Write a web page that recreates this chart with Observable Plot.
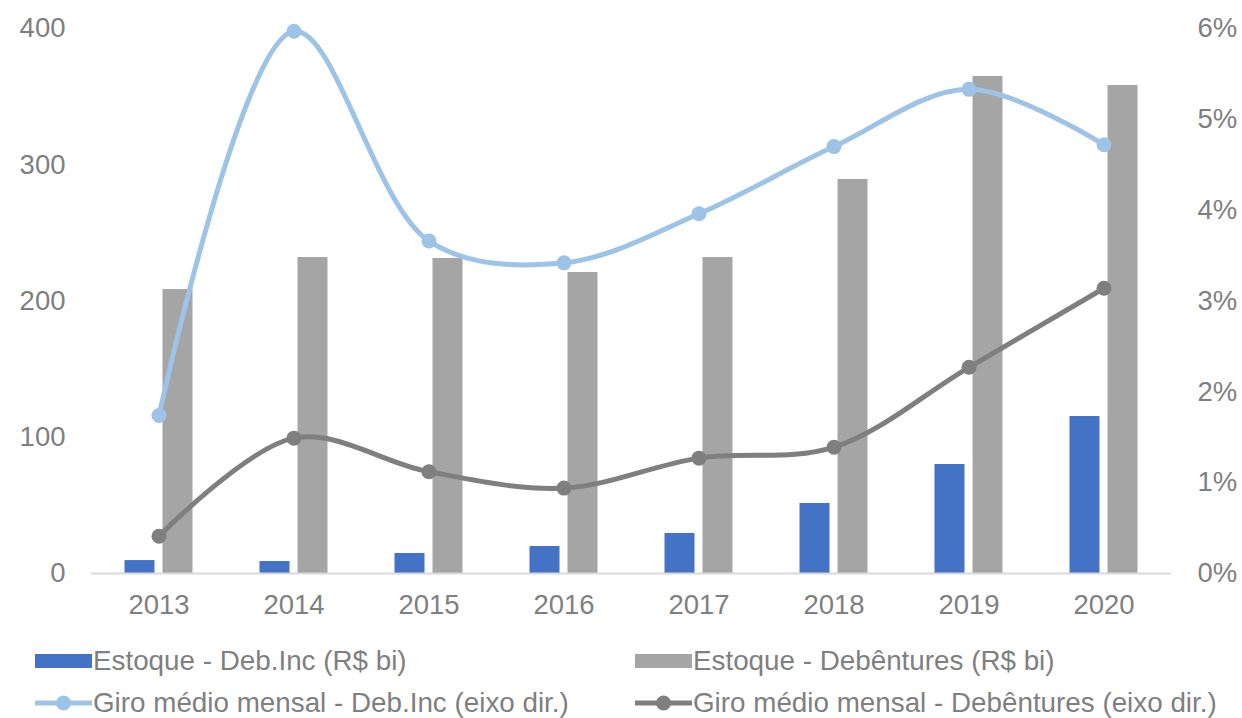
<!DOCTYPE html>
<html>
<head>
<meta charset="utf-8">
<script src="https://cdn.jsdelivr.net/npm/d3@7"></script>
<script src="https://cdn.jsdelivr.net/npm/@observablehq/plot@0.6"></script>
<style>
  body { margin: 0; background: #fff; font-family: "Liberation Sans", Arial, sans-serif; }
  #wrap { position: relative; width: 1242px; height: 718px; }
  .leg { position: absolute; display: flex; align-items: center; font-size: 27.8px; color: #7f7f7f; white-space: nowrap; }
  .leg svg { display: block; margin-right: 1px; }
</style>
</head>
<body>
<div id="wrap"><div id="chart"></div><div id="legend"></div></div>
<script>
const years = ["2013","2014","2015","2016","2017","2018","2019","2020"];
const estoqueDebInc = [9.5, 8.8, 14.7, 19.8, 29.4, 51.4, 80.0, 115.2];
const estoqueDebentures = [208.4, 231.9, 231.2, 220.9, 231.9, 289.2, 364.8, 358.2];
const giroDebInc = [1.74, 5.97, 3.66, 3.42, 3.96, 4.70, 5.33, 4.72];
const giroDebentures = [0.41, 1.49, 1.12, 0.94, 1.27, 1.39, 2.27, 3.14];
const leftTicks = [0, 100, 200, 300, 400];
const rightTicks = [0, 1, 2, 3, 4, 5, 6];
const seriesNames = [
  "Estoque - Deb.Inc (R$ bi)",
  "Estoque - Debêntures (R$ bi)",
  "Giro médio mensal - Deb.Inc (eixo dir.)",
  "Giro médio mensal - Debêntures (eixo dir.)"
];
const colors = ["#4472c4", "#a5a5a5", "#9dc3e6", "#7f7f7f"];

const leftMax = 400, rightMax = 6;
const k = leftMax / rightMax; // map % to left scale

const bars1 = years.map((y, i) => ({year: y, v: estoqueDebInc[i]}));
const bars2 = years.map((y, i) => ({year: y, v: estoqueDebentures[i]}));
const line1 = years.map((y, i) => ({year: y, v: giroDebInc[i] * k}));
const line2 = years.map((y, i) => ({year: y, v: giroDebentures[i] * k}));

const textColor = "#7f7f7f";
const chart = Plot.plot({
  width: 1242,
  height: 635,
  marginLeft: 91,
  marginRight: 71,
  marginTop: 28,
  marginBottom: 62,
  style: {fontFamily: "Liberation Sans, Arial, sans-serif", fontSize: "27.5px", color: textColor, background: "#fff"},
  x: {type: "band", domain: years, padding: 0, label: null},
  y: {domain: [0, leftMax], label: null},
  marks: [
    Plot.barY(bars1, {x: "year", y: "v", fill: colors[0], insetLeft: 33.5, insetRight: 71.5}),
    Plot.barY(bars2, {x: "year", y: "v", fill: colors[1], insetLeft: 71.5, insetRight: 33.5}),
    Plot.ruleY([0], {stroke: "#d9d9d9", strokeWidth: 2}),
    Plot.line(line2, {x: "year", y: "v", stroke: colors[3], strokeWidth: 5, curve: "catmull-rom"}),
    Plot.dot(line2, {x: "year", y: "v", fill: colors[3], r: 7.5}),
    Plot.line(line1, {x: "year", y: "v", stroke: colors[2], strokeWidth: 5, curve: "catmull-rom"}),
    Plot.dot(line1, {x: "year", y: "v", fill: colors[2], r: 7.5}),
    Plot.axisX({tickSize: 0, tickPadding: 21, label: null, fill: textColor}),
    Plot.axisY(leftTicks, {anchor: "left", tickSize: 0, tickPadding: 26, label: null, fill: textColor}),
    Plot.axisY(rightTicks.map(p => p * k), {anchor: "right", tickSize: 0, tickPadding: 26, label: null, fill: textColor,
      tickFormat: v => Math.round(v / k) + "%"})
  ]
});
document.getElementById("chart").appendChild(chart);

// Legend
const legend = document.getElementById("legend");
const pos = [
  {x: 35, y: 661, type: "bar"},
  {x: 635, y: 661, type: "bar"},
  {x: 35, y: 703, type: "line"},
  {x: 635, y: 703, type: "line"}
];
seriesNames.forEach((name, i) => {
  const p = pos[i];
  const d = document.createElement("div");
  d.className = "leg";
  d.style.left = p.x + "px";
  d.style.top = (p.y - 17) + "px";
  d.style.height = "34px";
  let sw;
  if (p.type === "bar") {
    sw = `<svg width="57" height="16"><rect x="0" y="1" width="57" height="14" fill="${colors[i]}"/></svg>`;
  } else {
    sw = `<svg width="57" height="18"><line x1="0" x2="57" y1="9" y2="9" stroke="${colors[i]}" stroke-width="5"/><circle cx="28.5" cy="9" r="7.5" fill="${colors[i]}"/></svg>`;
  }
  d.innerHTML = sw + `<span>${name}</span>`;
  legend.appendChild(d);
});
</script>
</body>
</html>
